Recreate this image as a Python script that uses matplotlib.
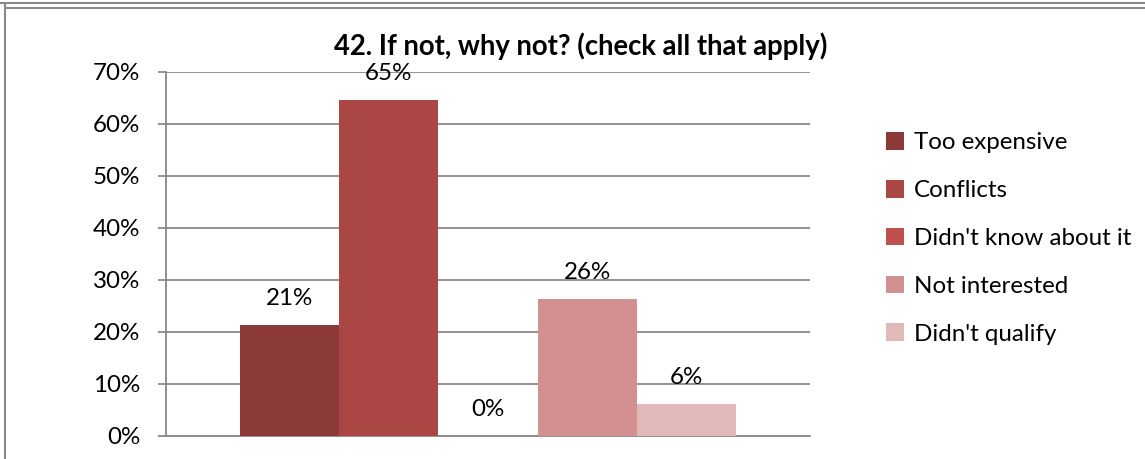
import matplotlib.pyplot as plt
from matplotlib.lines import Line2D
from matplotlib.patches import Patch

plt.rcParams.update({
    'font.family': ['Lato', 'DejaVu Sans'],
    'font.size': 17.4,
})

title = '42. If not, why not? (check all that apply)'
reasons = ['Too expensive', 'Conflicts', "Didn't know about it", 'Not interested', "Didn't qualify"]
percents = [21.3, 64.6, 0.0, 26.3, 6.2]
colors = ['#8C3A38', '#AA4744', '#C0504D', '#D29190', '#E0B9B8']
yticks = [0, 10, 20, 30, 40, 50, 60, 70]

grid_gray = '#898989'

fig = plt.figure(figsize=(11.45, 4.59), dpi=100)
W, H = 1145, 459
ax = fig.add_axes([166 / W, 1 - 436 / H, (810 - 166) / W, (436 - 72) / H])

# excel-style clustered columns: one category, gap width 150%
bar_w = 1.0
n = len(reasons)
gap = 1.5 * bar_w
xs = [gap / 2 + i * bar_w + bar_w / 2 for i in range(n)]
ax.bar(xs, percents, width=bar_w, color=colors, zorder=3)
ax.set_xlim(0, n * bar_w + gap)
ax.set_ylim(0, 70)

for x, v in zip(xs, percents):
    ax.annotate(f'{v:.0f}%', (x, v), xytext=(0, 19), textcoords='offset points',
                ha='center', va='center', fontsize=17.4, zorder=4)

ax.set_yticks(yticks)
ax.set_yticklabels([f'{t}%' for t in yticks])
ax.set_xticks([])
ax.yaxis.grid(True, color=grid_gray, linewidth=1.3, zorder=0)
for side in ['top', 'right']:
    ax.spines[side].set_visible(False)
for side in ['left', 'bottom']:
    ax.spines[side].set_color(grid_gray)
    ax.spines[side].set_linewidth(1.3)
ax.tick_params(axis='y', length=6, width=1.3, color=grid_gray, pad=12.5)

fig.text(581 / W, 1 - 46 / H, title, ha='center', va='center',
         fontsize=19.8, fontweight='bold')

handles = [Patch(facecolor=c, edgecolor='none') for c in colors]
fig.legend(handles, reasons, loc='upper left', bbox_to_anchor=(886 / W, 1 - 132 / H),
           frameon=False, fontsize=17.4, handlelength=0.75, handleheight=0.75,
           handletextpad=0.4, labelspacing=1.1, borderpad=0, borderaxespad=0)

# chart frame edges
frame_gray = '#8A8A8A'
fig.add_artist(Line2D([0, 1], [1 - 3 / H, 1 - 3 / H], color=frame_gray, linewidth=1.5))
fig.add_artist(Line2D([5 / W, 1], [1 - 7.5 / H, 1 - 7.5 / H], color=frame_gray, linewidth=1.5))
fig.add_artist(Line2D([5 / W, 5 / W], [0, 1 - 3 / H], color=frame_gray, linewidth=1.5))

fig.savefig('out.png', dpi=100)
